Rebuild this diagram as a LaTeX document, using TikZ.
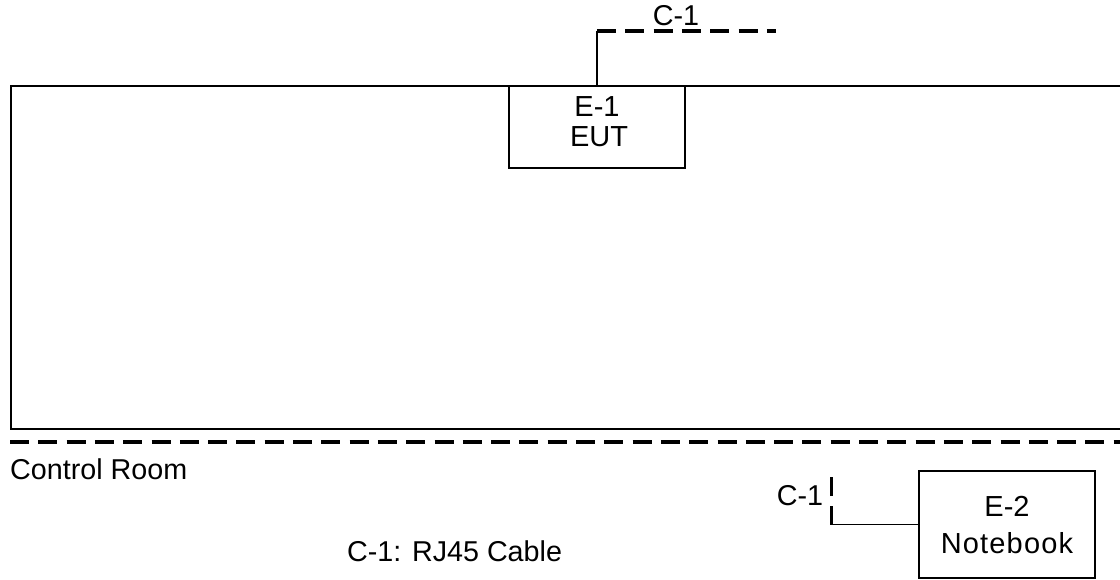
\documentclass[tikz,border=0pt]{standalone}
\usepackage{fontspec}
\setmainfont{Liberation Sans}
\newfontfamily\nbfont[LetterSpace=4]{Liberation Sans}
\begin{document}
\begin{tikzpicture}[x=1pt,y=-1pt,
  wall/.style={line width=1.9pt},
  box/.style={draw,line width=1.9pt,fill=white,inner sep=0pt},
  solidline/.style={line width=1.9pt},
  dashline/.style={line width=3.2pt,dash pattern=on 19pt off 9.3pt},
  boxtxt/.style={anchor=base,inner sep=0pt,font=\fontsize{29}{33}\selectfont},
  freetxt/.style={inner sep=0pt,font=\fontsize{28.7}{33}\selectfont}]
\useasboundingbox (0,0) rectangle (1120,580);
% test chamber
\draw[wall] (1130,86) -- (11,86) -- (11,429) -- (1130,429);
\draw[dashline] (10,442) -- (1125,442);
% E-1
\node[box,minimum width=176pt,minimum height=82pt] (e1) at (597,127) {};
\node[boxtxt] (e1a) at (597,117) {E-1};
\node[boxtxt] (e1b) at (599,147) {EUT};
% E-2
\node[box,minimum width=176pt,minimum height=107pt] (e2) at (1007,524.5) {};
\node[boxtxt] (e2a) at (1007,516) {E-2};
\node[boxtxt,font=\nbfont\fontsize{29}{33}\selectfont] (e2b) at (1007,553) {Notebook};
% cables
\coordinate (c1a) at (597,31);
\coordinate (c1b) at (776,31);
\draw[solidline] (e1.north) -- (c1a);
\draw[dashline] (c1a) -- (c1b);
\node[freetxt,anchor=base] (l1) at (676,26) {C-1};
\coordinate (c2a) at (831.5,524.5);
\coordinate (c2b) at (831.5,469);
\draw[solidline] (e2.west) -- (c2a);
\draw[dashline] (c2a) -- (c2b);
\node[freetxt,anchor=base] (l2) at (800,505) {C-1};
% labels
\node[freetxt,anchor=base west] (cr) at (10,479) {Control Room};
\node[freetxt,anchor=base west] (leg) at (347,561.5) {C-1: RJ45 Cable};
\end{tikzpicture}
\end{document}
